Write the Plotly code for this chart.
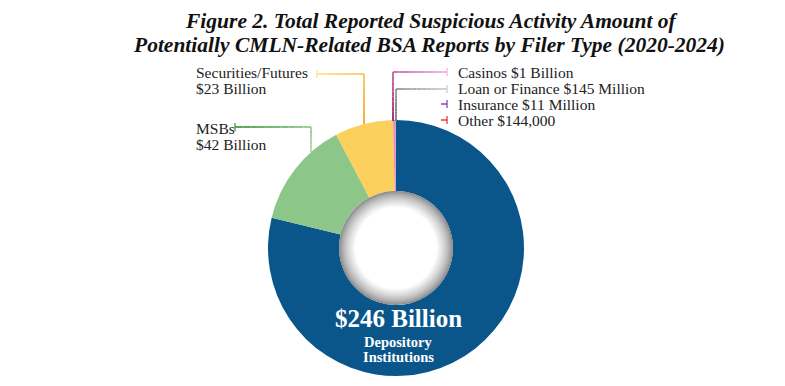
import plotly.graph_objects as go

# ---- data ----
filer_types = ["Depository Institutions", "MSBs", "Securities/Futures", "Casinos",
               "Loan or Finance", "Insurance", "Other"]
amounts_billion = [246, 42, 23, 1, 0.145, 0.011, 0.000144]
slice_colors = ["#0a568b", "#8cc688", "#fbd05c", "#e88cc0", "#9a9a9a", "#7a4fa0", "#e83a3a"]
label_texts = ["$246 Billion", "$42 Billion", "$23 Billion", "$1 Billion",
               "$145 Million", "$11 Million", "$144,000"]

W, H = 785, 386
CX, CY, R = 396, 248, 128  # pie centre / radius in px
HOLE = 0.445

def px(x):
    return x / W

def py(y):
    return 1 - y / H

fig = go.Figure()
fig.add_trace(go.Pie(
    labels=filer_types, values=amounts_billion, sort=False, direction="clockwise",
    rotation=0, hole=HOLE, textinfo="none", hoverinfo="label+value",
    marker=dict(colors=slice_colors, line=dict(width=0)),
    domain=dict(x=[px(CX - R), px(CX + R)], y=[py(CY + R), py(CY - R)]),
    showlegend=False,
))

shapes = []
# hole shading (grey rim fading to white)
hr = R * HOLE
n = 28
for i in range(n):
    t = i / (n - 1)
    r = hr - t * 16
    g = int(135 + (255 - 135) * (t ** 0.7))
    shapes.append(dict(type="circle", xref="paper", yref="paper",
                       x0=px(CX - r), x1=px(CX + r), y0=py(CY + r), y1=py(CY - r),
                       fillcolor=f"rgb({g},{g},{g})", line=dict(width=0), layer="above"))

def hex2rgb(h):
    h = h.lstrip("#")
    return [int(h[i:i + 2], 16) for i in (0, 2, 4)]

def mix(c1, c2, t):
    a, b = hex2rgb(c1), hex2rgb(c2)
    return "rgb(%d,%d,%d)" % tuple(int(a[i] + (b[i] - a[i]) * t) for i in range(3))

def leader(points, c_start, c_end, width=1.8, k=10):
    # polyline with colour blending from start to end
    segs = []
    for (x0, y0), (x1, y1) in zip(points[:-1], points[1:]):
        segs.append((x0, y0, x1, y1, abs(x1 - x0) + abs(y1 - y0)))
    total = sum(s[4] for s in segs)
    done = 0
    for x0, y0, x1, y1, ln in segs:
        for j in range(k):
            a, b = j / k, (j + 1) / k
            t = (done + ln * (a + b) / 2) / total
            shapes.append(dict(type="line", xref="paper", yref="paper",
                               x0=px(x0 + (x1 - x0) * a), y0=py(y0 + (y1 - y0) * a),
                               x1=px(x0 + (x1 - x0) * b), y1=py(y0 + (y1 - y0) * b),
                               line=dict(color=mix(c_start, c_end, t), width=width),
                               layer="above"))
        done += ln

def cap(x, y, color):
    shapes.append(dict(type="line", xref="paper", yref="paper",
                       x0=px(x), x1=px(x), y0=py(y - 4), y1=py(y + 4),
                       line=dict(color=color, width=1.3), layer="above"))

# Securities/Futures
leader([(317, 74), (364, 74), (364, 124)], "#fde58a", "#f5a623")
cap(317, 74, "#fde58a")
# MSBs
leader([(235, 127), (311, 127), (311, 152)], "#3f9a3f", "#b2d9ad")
cap(235, 127, "#3f9a3f")
# Casinos
leader([(393, 121), (393, 72), (447, 72)], "#9c1a72", "#f4b4d8")
cap(447, 72, "#f4b4d8")
# Loan or Finance
leader([(396, 121), (396, 89), (447, 89)], "#707070", "#cfcfcf")
cap(447, 89, "#cfcfcf")
# Insurance
leader([(441, 104), (447, 104)], "#7a4fa0", "#7a4fa0")
cap(447, 104, "#7a4fa0")
# Other
leader([(441, 120), (447, 120)], "#e83a3a", "#e83a3a")
cap(447, 120, "#e83a3a")

serif = "Liberation Serif"
ann = []
def label(x, y, text, size=15.5, color="#222222", anchor="left"):
    ann.append(dict(x=px(x), y=py(y), xref="paper", yref="paper", text=text,
                    showarrow=False, xanchor=anchor, yanchor="middle",
                    font=dict(family=serif, size=size, color=color)))

label(194, 72, filer_types[2])
label(194, 88, label_texts[2])
label(194, 128, filer_types[1])
label(194, 144, label_texts[1])
label(456, 72, f"{filer_types[3]} {label_texts[3]}")
label(456, 88, f"{filer_types[4]} {label_texts[4]}")
label(456, 104, f"{filer_types[5]} {label_texts[5]}")
label(456, 120, f"{filer_types[6]} {label_texts[6]}")

label(398, 318, f"<b>{label_texts[0]}</b>", size=25, color="white", anchor="center")
label(398, 342, "<b>Depository</b>", size=14.5, color="white", anchor="center")
label(398, 357, "<b>Institutions</b>", size=14.5, color="white", anchor="center")

ann.append(dict(x=px(431), y=py(21), xref="paper", yref="paper",
                text="<b><i>Figure 2. Total Reported Suspicious Activity Amount of</i></b>",
                showarrow=False, xanchor="center", yanchor="middle",
                font=dict(family=serif, size=21.5, color="#111111")))
ann.append(dict(x=px(429), y=py(45), xref="paper", yref="paper",
                text="<b><i>Potentially CMLN-Related BSA Reports by Filer Type (2020-2024)</i></b>",
                showarrow=False, xanchor="center", yanchor="middle",
                font=dict(family=serif, size=21.5, color="#111111")))

fig.update_layout(width=W, height=H, margin=dict(l=0, r=0, t=0, b=0),
                  paper_bgcolor="white", plot_bgcolor="white",
                  shapes=shapes, annotations=ann)
fig.write_html("out.html", config={"displayModeBar": False},
               post_script="document.body.style.margin='0px';")
